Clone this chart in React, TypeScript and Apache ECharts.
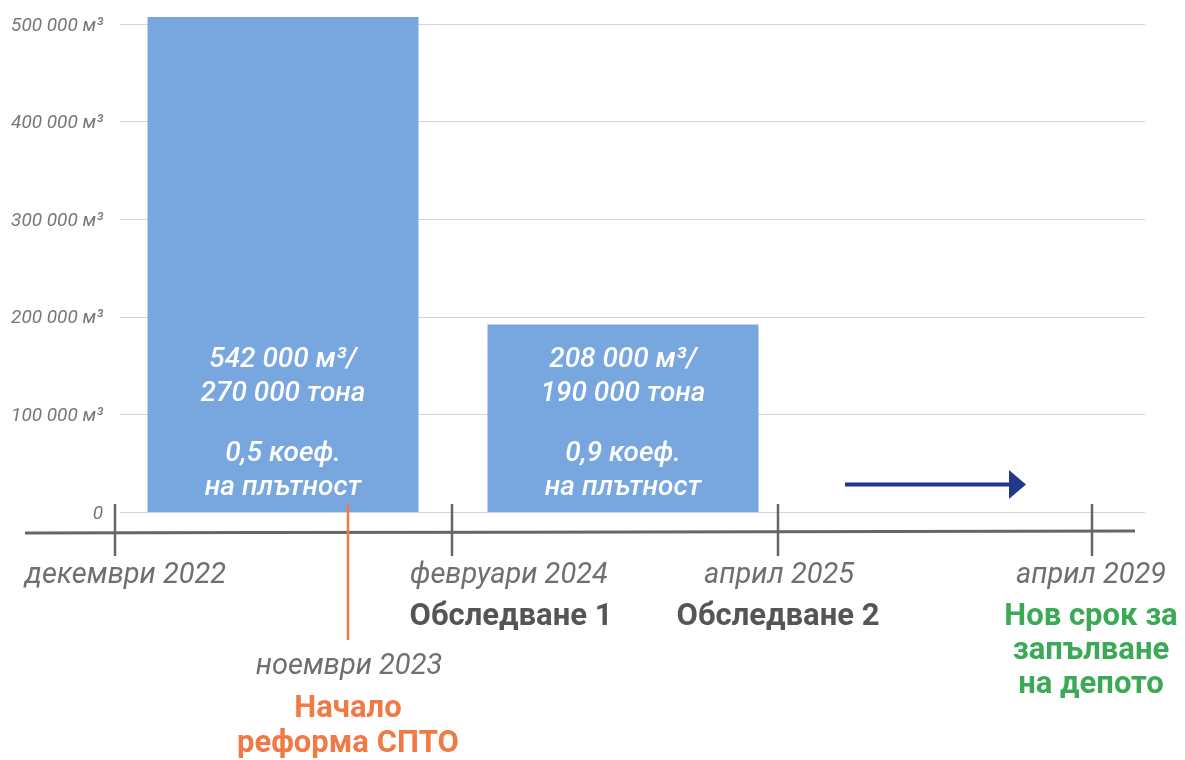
import React, { useEffect, useRef } from 'react';
import * as echarts from 'echarts';

const FONT = 'Roboto';

const yTickValues = [0, 100000, 200000, 300000, 400000, 500000];
const barCategories = ['декември 2022 – февруари 2024', 'февруари 2024 – април 2025', 'април 2025 – април 2029'];
const barValues = [542000, 192000, null];
const volumeLabels = ['542 000 м³/', '208 000 м³/', ''];
const tonLabels = ['270 000 тона', '190 000 тона', ''];
const densityLabels = ['0,5 коеф.', '0,9 коеф.', ''];
const densitySubLabels = ['на плътност', 'на плътност', ''];

const milestoneDates = ['декември 2022', 'февруари 2024', 'април 2025', 'април 2029'];
const milestoneEvents = ['', 'Обследване 1', 'Обследване 2', 'Нов срок за\nзапълване\nна депото'];
const reformDate = 'ноември 2023';
const reformEvent = 'Начало\nреформа СПТО';

// layout (positions of the decorative timeline)
const tickX = [115, 452, 778, 1092];
const dateX = [25, 410, 779, 1091];
const dateAlign = ['left', 'left', 'center', 'center'];
const eventX = [0, 511, 778, 1091];
const eventColor = ['#555', '#555', '#555', '#3ca957'];

const GREY = '#6f6f6f';

function fmtY(v: number) {
  if (v === 0) return '0';
  return `${v / 1000} 000 м³`;
}

export default function App() {
  const ref = useRef<HTMLDivElement>(null);
  useEffect(() => {
    if (!ref.current) return;
    const chart = echarts.init(ref.current, null, { renderer: 'svg' });

    const graphic: any[] = [];
    // timeline
    graphic.push({
      type: 'line',
      shape: { x1: 25, y1: 533, x2: 1135, y2: 531 },
      style: { stroke: '#666', lineWidth: 3 },
      z: 10,
    });
    tickX.forEach((x) => {
      graphic.push({
        type: 'line',
        shape: { x1: x, y1: 504, x2: x, y2: 556 },
        style: { stroke: '#666', lineWidth: 2.5 },
        z: 10,
      });
    });
    milestoneDates.forEach((t, i) => {
      graphic.push({
        type: 'text',
        x: dateX[i],
        y: 573,
        style: {
          text: t,
          fontFamily: FONT,
          fontSize: 29,
          fontStyle: 'italic',
          fill: GREY,
          align: dateAlign[i],
          textAlign: dateAlign[i],
          verticalAlign: 'middle',
          textVerticalAlign: 'middle',
        },
        z: 10,
      });
    });
    milestoneEvents.forEach((t, i) => {
      if (!t) return;
      graphic.push({
        type: 'text',
        x: eventX[i],
        y: 597,
        style: {
          text: t,
          fontFamily: FONT,
          fontSize: 31,
          fontWeight: 'bold',
          lineHeight: 34,
          fill: eventColor[i],
          align: 'center',
          textAlign: 'center',
          verticalAlign: 'top',
          textVerticalAlign: 'top',
        },
        z: 10,
      });
    });
    // reform marker
    graphic.push({
      type: 'line',
      shape: { x1: 348, y1: 504, x2: 348, y2: 640 },
      style: { stroke: '#f07a45', lineWidth: 2.5 },
      z: 11,
    });
    graphic.push({
      type: 'text',
      x: 349,
      y: 664,
      style: {
        text: reformDate,
        fontFamily: FONT,
        fontSize: 29,
        fontStyle: 'italic',
        fill: GREY,
        align: 'center',
        textAlign: 'center',
        verticalAlign: 'middle',
        textVerticalAlign: 'middle',
      },
      z: 10,
    });
    graphic.push({
      type: 'text',
      x: 348,
      y: 689,
      style: {
        text: reformEvent,
        fontFamily: FONT,
        fontSize: 31,
        fontWeight: 'bold',
        lineHeight: 35,
        fill: '#f07a45',
        align: 'center',
        textAlign: 'center',
        verticalAlign: 'top',
        textVerticalAlign: 'top',
      },
      z: 10,
    });
    // arrow
    graphic.push({
      type: 'line',
      shape: { x1: 845, y1: 484.5, x2: 1012, y2: 484.5 },
      style: { stroke: '#21398a', lineWidth: 4 },
      z: 10,
    });
    graphic.push({
      type: 'polygon',
      shape: { points: [[1009, 470], [1026, 484.5], [1009, 499]] },
      style: { fill: '#21398a' },
      z: 10,
    });

    chart.setOption({
      animation: false,
      grid: [
        { left: 120, right: 40, top: 24, bottom: 248 },
        { left: 113, right: 52, top: 17, bottom: 248 },
      ],
      xAxis: [
        { type: 'category', gridIndex: 0, data: barCategories, show: false },
        { type: 'category', gridIndex: 1, data: barCategories, show: false },
      ],
      yAxis: [
        {
          type: 'value',
          gridIndex: 0,
          min: yTickValues[0],
          max: yTickValues[yTickValues.length - 1],
          interval: 100000,
          axisLine: { show: false },
          axisTick: { show: false },
          splitLine: { lineStyle: { color: '#d4d4d4', width: 1 } },
          axisLabel: {
            formatter: fmtY,
            fontFamily: FONT,
            fontSize: 19,
            fontStyle: 'italic',
            color: '#777',
            margin: 17,
          },
        },
        {
          type: 'value',
          gridIndex: 1,
          min: 0,
          max: 507000,
          show: false,
          splitLine: { show: false },
        },
      ],
      graphic,
      series: [
        {
          type: 'bar',
          xAxisIndex: 1,
          yAxisIndex: 1,
          data: barValues,
          barWidth: 271,
          clip: true,
          itemStyle: { color: '#78a7df' },
          label: {
            show: true,
            position: 'insideBottom',
            distance: 10,
            formatter: (p: any) => {
              const i = p.dataIndex;
              return `{a|${volumeLabels[i]}}\n{a|${tonLabels[i]}}\n{g| }\n{a|${densityLabels[i]}}\n{a|${densitySubLabels[i]}}`;
            },
            rich: {
              a: {
                fontFamily: FONT,
                fontSize: 28,
                lineHeight: 34,
                fontStyle: 'italic',
                fontWeight: 500,
                color: '#fff',
                align: 'center',
              },
              g: { fontSize: 10, lineHeight: 26 },
            },
          },
        },
      ],
    });
    return () => chart.dispose();
  }, []);
  return <div ref={ref} style={{ position: 'fixed', left: 0, top: 0, width: 1185, height: 760 }} />;
}
